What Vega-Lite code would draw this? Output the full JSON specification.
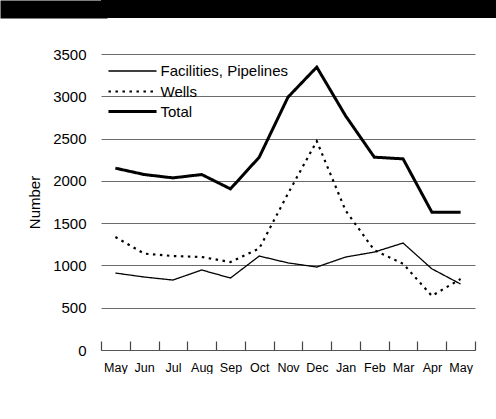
{
  "$schema": "https://vega.github.io/schema/vega-lite/v6.json",
  "padding": {"left": -9, "top": 0, "right": 0, "bottom": 0},
  "background": "white",
  "spacing": 29,
  "config": {
    "font": "Liberation Sans",
    "view": {"stroke": null}
  },
  "datasets": {
    "series": [
      {"m": "May-0", "s": "Facilities, Pipelines", "v": 910},
      {"m": "Jun", "s": "Facilities, Pipelines", "v": 863},
      {"m": "Jul", "s": "Facilities, Pipelines", "v": 827},
      {"m": "Aug", "s": "Facilities, Pipelines", "v": 946},
      {"m": "Sep", "s": "Facilities, Pipelines", "v": 851},
      {"m": "Oct", "s": "Facilities, Pipelines", "v": 1111},
      {"m": "Nov", "s": "Facilities, Pipelines", "v": 1030},
      {"m": "Dec", "s": "Facilities, Pipelines", "v": 981},
      {"m": "Jan", "s": "Facilities, Pipelines", "v": 1099},
      {"m": "Feb", "s": "Facilities, Pipelines", "v": 1158},
      {"m": "Mar", "s": "Facilities, Pipelines", "v": 1265},
      {"m": "Apr", "s": "Facilities, Pipelines", "v": 960},
      {"m": "May-1", "s": "Facilities, Pipelines", "v": 780},
      {"m": "May-0", "s": "Wells", "v": 1336},
      {"m": "Jun", "s": "Wells", "v": 1140},
      {"m": "Jul", "s": "Wells", "v": 1111},
      {"m": "Aug", "s": "Wells", "v": 1100},
      {"m": "Sep", "s": "Wells", "v": 1040},
      {"m": "Oct", "s": "Wells", "v": 1200},
      {"m": "Nov", "s": "Wells", "v": 1850},
      {"m": "Dec", "s": "Wells", "v": 2470},
      {"m": "Jan", "s": "Wells", "v": 1650},
      {"m": "Feb", "s": "Wells", "v": 1180},
      {"m": "Mar", "s": "Wells", "v": 1020},
      {"m": "Apr", "s": "Wells", "v": 640},
      {"m": "May-1", "s": "Wells", "v": 840},
      {"m": "May-0", "s": "Total", "v": 2150},
      {"m": "Jun", "s": "Total", "v": 2075},
      {"m": "Jul", "s": "Total", "v": 2035},
      {"m": "Aug", "s": "Total", "v": 2075},
      {"m": "Sep", "s": "Total", "v": 1905},
      {"m": "Oct", "s": "Total", "v": 2280},
      {"m": "Nov", "s": "Total", "v": 2990},
      {"m": "Dec", "s": "Total", "v": 3345},
      {"m": "Jan", "s": "Total", "v": 2770},
      {"m": "Feb", "s": "Total", "v": 2280},
      {"m": "Mar", "s": "Total", "v": 2260},
      {"m": "Apr", "s": "Total", "v": 1630},
      {"m": "May-1", "s": "Total", "v": 1630}
    ],
    "header": [{"h": "bar"}]
  },
  "vconcat": [
    {
      "width": 395,
      "height": 18,
      "view": {"fill": "black", "stroke": null},
      "data": {"name": "header"},
      "mark": {"type": "point", "opacity": 0},
      "encoding": {
        "y": {
          "field": "h",
          "type": "nominal",
          "axis": {
            "title": null,
            "labels": false,
            "domain": false,
            "grid": false,
            "ticks": true,
            "offset": -6,
            "tickSize": 107,
            "tickWidth": 18,
            "tickColor": "black"
          }
        }
      }
    },
    {
      "width": 374,
      "height": 296,
      "view": {"stroke": null},
      "data": {"name": "series"},
      "mark": {"type": "line", "color": "black", "strokeCap": "butt", "strokeJoin": "miter"},
      "encoding": {
        "x": {
          "field": "m",
          "type": "nominal",
          "sort": null,
          "bandPosition": 0.5,
          "scale": {"type": "band", "paddingInner": 0, "paddingOuter": 0},
          "axis": {
            "title": null,
            "labelAngle": 0,
            "labelExpr": "substring(datum.label, 0, 3)",
            "labelFontSize": 12.5,
            "labelColor": "black",
            "labelPadding": 20,
            "domainColor": "#555555",
            "domainWidth": 1.2,
            "ticks": true,
            "tickSize": -9,
            "tickBand": "extent",
            "tickColor": "#444444",
            "tickWidth": 1.2,
            "grid": false
          }
        },
        "y": {
          "field": "v",
          "type": "quantitative",
          "scale": {"domain": [0, 3500], "nice": false},
          "axis": {
            "title": "Number",
            "titleFontSize": 15,
            "titleFontWeight": "normal",
            "titleColor": "black",
            "titlePadding": 10,
            "values": [0, 500, 1000, 1500, 2000, 2500, 3000, 3500],
            "format": "d",
            "labelFontSize": 15,
            "labelColor": "black",
            "labelPadding": 15,
            "domain": false,
            "ticks": false,
            "grid": true,
            "gridColor": "#6a6a6a",
            "gridWidth": 1.2
          }
        },
        "detail": {"field": "s"},
        "strokeWidth": {
          "field": "s",
          "type": "nominal",
          "scale": {"domain": ["Facilities, Pipelines", "Wells", "Total"], "range": [1.3, 3, 4.5]},
          "legend": {
            "orient": "none",
            "legendX": 19.5,
            "legendY": 59.5,
            "title": null,
            "padding": 0,
            "labelFontSize": 15,
            "labelColor": "black",
            "labelOffset": 16,
            "rowPadding": 0,
            "symbolType": "M-2.29,0H2.29",
            "symbolSize": 441,
            "symbolStrokeColor": "black",
            "symbolOpacity": 1
          }
        },
        "strokeDash": {
          "field": "s",
          "type": "nominal",
          "scale": {"domain": ["Facilities, Pipelines", "Wells", "Total"], "range": [[1, 0], [2.5, 4.5], [1, 0]]},
          "legend": {
            "orient": "none",
            "legendX": 19.5,
            "legendY": 59.5,
            "title": null,
            "padding": 0,
            "labelFontSize": 15,
            "labelColor": "black",
            "labelOffset": 16,
            "rowPadding": 0,
            "symbolType": "M-2.29,0H2.29",
            "symbolSize": 441,
            "symbolStrokeColor": "black",
            "symbolOpacity": 1
          }
        }
      }
    }
  ]
}
